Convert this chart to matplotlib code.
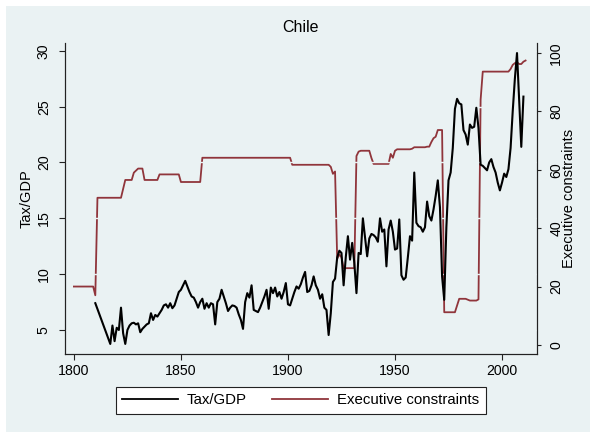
import matplotlib
matplotlib.use("Agg")
import matplotlib.pyplot as plt
from matplotlib.patches import Rectangle

plt.rcParams['font.family'] = ['Liberation Sans', 'DejaVu Sans']

# ---- data ----
title = "Chile"

# Tax/GDP (left axis), 1810 then 1817-2010
tax_years = [1810] + list(range(1817, 2011))
tax_values = [
    7.4,
    3.75, 5.4, 4.0, 5.2, 5.0, 7.0, 4.7, 3.75, 5.0, 5.4,      # 1817-1826
    5.6, 5.65, 5.5, 5.6, 4.8, 5.1, 5.3, 5.5, 5.6, 6.5,       # 1827-1836
    5.9, 6.35, 6.2, 6.5, 6.8, 7.2, 7.3, 7.0, 7.4, 6.95,      # 1837-1846
    7.2, 7.8, 8.4, 8.6, 9.0, 9.4, 8.9, 8.4, 8.0, 7.9,        # 1847-1856
    7.5, 7.0, 7.5, 7.8, 6.9, 7.4, 7.0, 7.4, 7.3, 5.5,        # 1857-1866
    7.5, 7.8, 8.6, 8.0, 7.4, 6.7, 7.0, 7.2, 7.15, 7.0,       # 1867-1876
    6.4, 5.9, 5.1, 7.5, 8.3, 7.9, 9.0, 6.8, 6.7, 6.6,        # 1877-1886
    7.0, 7.5, 8.0, 8.6, 6.9, 8.8, 8.3, 8.8, 8.0, 8.4,        # 1887-1896
    7.8, 8.4, 9.2, 7.3, 7.2, 7.8, 8.4, 8.9, 8.7, 9.1,        # 1897-1906
    9.7, 10.2, 8.4, 8.5, 9.0, 9.8, 9.0, 8.6, 7.8, 8.2,       # 1907-1916
    7.0, 6.8, 4.55, 6.5, 9.3, 9.6, 11.5, 12.1, 11.9, 9.0,    # 1917-1926
    11.5, 13.4, 11.3, 12.8, 11.0, 8.3, 11.9, 11.8, 15.0, 13.3,  # 1927-1936
    11.6, 13.2, 13.6, 13.5, 13.3, 12.9, 15.0, 13.8, 14.0, 10.7,  # 1937-1946
    14.0, 14.8, 13.8, 12.2, 12.3, 14.9, 9.9, 9.5, 9.7, 11.5,    # 1947-1956
    13.4, 13.0, 19.1, 14.6, 14.3, 14.2, 13.8, 14.2, 16.5, 15.2,  # 1957-1966
    14.8, 15.8, 17.0, 18.4, 16.0, 9.8, 7.7, 14.2, 18.4, 19.1,    # 1967-1976
    21.3, 24.8, 25.7, 25.3, 25.2, 22.9, 22.5, 21.6, 23.4, 23.1,  # 1977-1986
    23.2, 24.9, 23.1, 19.8, 19.7, 19.5, 19.3, 20.0, 20.3, 19.6,  # 1987-1996
    19.1, 18.2, 17.5, 18.2, 19.0, 18.7, 19.4, 21.3, 24.6, 27.5,  # 1997-2006
    29.8, 25.6, 21.4, 25.9,                                      # 2007-2010
]

# Executive constraints (right axis), 1800-2011
exec_years = list(range(1800, 2012))
exec_values = [
    20, 20, 20, 20, 20, 20, 20, 20, 20, 20,                       # 1800
    17, 50.4, 50.4, 50.4, 50.4, 50.4, 50.4, 50.4, 50.4, 50.4,     # 1810
    50.4, 50.4, 50.4, 53.5, 56.5, 56.5, 56.5, 56.5, 59, 59.7,     # 1820
    60.4, 60.4, 60.4, 56.5, 56.5, 56.5, 56.5, 56.5, 56.5, 56.5,   # 1830
    58.4, 58.4, 58.4, 58.4, 58.4, 58.4, 58.4, 58.4, 58.4, 58.4,   # 1840
    55.8, 55.8, 55.8, 55.8, 55.8, 55.8, 55.8, 55.8, 55.8, 55.8,   # 1850
    64.1, 64.1, 64.1, 64.1, 64.1, 64.1, 64.1, 64.1, 64.1, 64.1,   # 1860
    64.1, 64.1, 64.1, 64.1, 64.1, 64.1, 64.1, 64.1, 64.1, 64.1,   # 1870
    64.1, 64.1, 64.1, 64.1, 64.1, 64.1, 64.1, 64.1, 64.1, 64.1,   # 1880
    64.1, 64.1, 64.1, 64.1, 64.1, 64.1, 64.1, 64.1, 64.1, 64.1,   # 1890
    64.1, 64.1, 61.7, 61.7, 61.7, 61.7, 61.7, 61.7, 61.7, 61.7,   # 1900
    61.7, 61.7, 61.7, 61.7, 61.7, 61.7, 61.7, 61.7, 61.7, 61.7,   # 1910
    61.0, 58.6, 59.4, 29.5, 31.0, 30.0, 26.3, 26.3, 26.3, 26.3,   # 1920
    26.3, 26.3, 64.7, 66.2, 66.5, 66.5, 66.5, 66.5, 66.5, 64.0,   # 1930
    62.0, 62.0, 62.0, 62.0, 62.0, 62.0, 62.0, 62.0, 65.4, 64.1,   # 1940
    66.5, 67.0, 67.0, 67.0, 67.0, 67.0, 67.0, 67.0, 67.2, 67.7,   # 1950
    67.7, 67.7, 67.7, 67.7, 67.7, 67.9, 67.9, 69.5, 70.8, 71.3,   # 1960
    73.6, 73.6, 73.6, 11.2, 11.2, 11.2, 11.2, 11.2, 11.2, 13.5,   # 1970
    15.8, 15.8, 15.8, 15.8, 15.5, 15.2, 15.2, 15.2, 15.2, 15.6,   # 1980
    84.0, 93.6, 93.6, 93.6, 93.6, 93.6, 93.6, 93.6, 93.6, 93.6,   # 1990
    93.6, 93.6, 93.6, 93.6, 94.5, 95.9, 96.5, 96.8, 96.2, 96.2,   # 2000
    97.0, 97.4,                                                   # 2010
]

x_ticks = [1800, 1850, 1900, 1950, 2000]
left_ticks = [5, 10, 15, 20, 25, 30]
right_ticks = [0, 20, 40, 60, 80, 100]

bg = '#EAF2F3'
maroon = '#90353B'

# ---- figure ----
fig = plt.figure(figsize=(5.9, 4.32), dpi=100, facecolor='white')
fig.patches.append(Rectangle((6 / 590, 0), 1, 1 - 6 / 432, transform=fig.transFigure,
                             facecolor=bg, edgecolor='none', zorder=-10))

ax = fig.add_axes([64.7 / 590, 1 - 354 / 432, 472 / 590, 311 / 432])
ax2 = ax.twinx()
ax.set_zorder(2)
ax.patch.set_visible(False)
ax2.set_facecolor('white')

l1, = ax.plot(tax_years, tax_values, color='black', lw=1.5, label='Tax/GDP')
l2, = ax2.plot(exec_years, exec_values, color=maroon, lw=1.3, label='Executive constraints')

ax.set_xlim(1795.7, 2016.2)
ax.set_ylim(2.85, 30.7)
ax2.set_ylim(-3.1, 103.4)

ax.set_xticks(x_ticks)
ax.set_yticks(left_ticks)
ax2.set_yticks(right_ticks)

ax.grid(axis='y', color=bg, lw=1.0)
ax.grid(axis='x', visible=False)

for a in (ax, ax2):
    a.spines['top'].set_visible(False)
    for s in ('left', 'right', 'bottom'):
        a.spines[s].set_color('#222222')
        a.spines[s].set_linewidth(0.8)

ax.tick_params(axis='x', length=4, width=0.8, color='#222222', labelsize=10.2, pad=3)
ax.tick_params(axis='y', length=4, width=0.8, color='#222222', labelsize=10.2, pad=6,
               labelrotation=90)
ax2.tick_params(axis='y', length=3, width=0.8, color='#222222', labelsize=10.2, pad=6,
                labelrotation=90)
for lab in ax.get_yticklabels():
    lab.set_va('center')
for lab in ax2.get_yticklabels():
    lab.set_va('center')

ax.set_ylabel('Tax/GDP', fontsize=10.5)
ax.yaxis.set_label_coords(-0.066, 0.5)
ax2.set_ylabel('Executive constraints', fontsize=10.5)
ax2.yaxis.set_label_coords(1.053, 0.5)

fig.text(300.7 / 590, 1 - 28 / 432, title, ha='center', va='center', fontsize=11.5)

leg = fig.legend([l1, l2], ['Tax/GDP', 'Executive constraints'], loc='center',
                 bbox_to_anchor=(300.8 / 590, 1 - 400.4 / 432), ncol=2, fontsize=10.8,
                 handlelength=3.7, handletextpad=0.6, columnspacing=1.7,
                 borderpad=0.45, fancybox=False, framealpha=1)
leg.get_frame().set_edgecolor('#222222')
leg.get_frame().set_linewidth(0.8)
for h in leg.get_lines():
    h.set_linewidth(1.3)

fig.savefig('out.png', dpi=100, facecolor=fig.get_facecolor())
